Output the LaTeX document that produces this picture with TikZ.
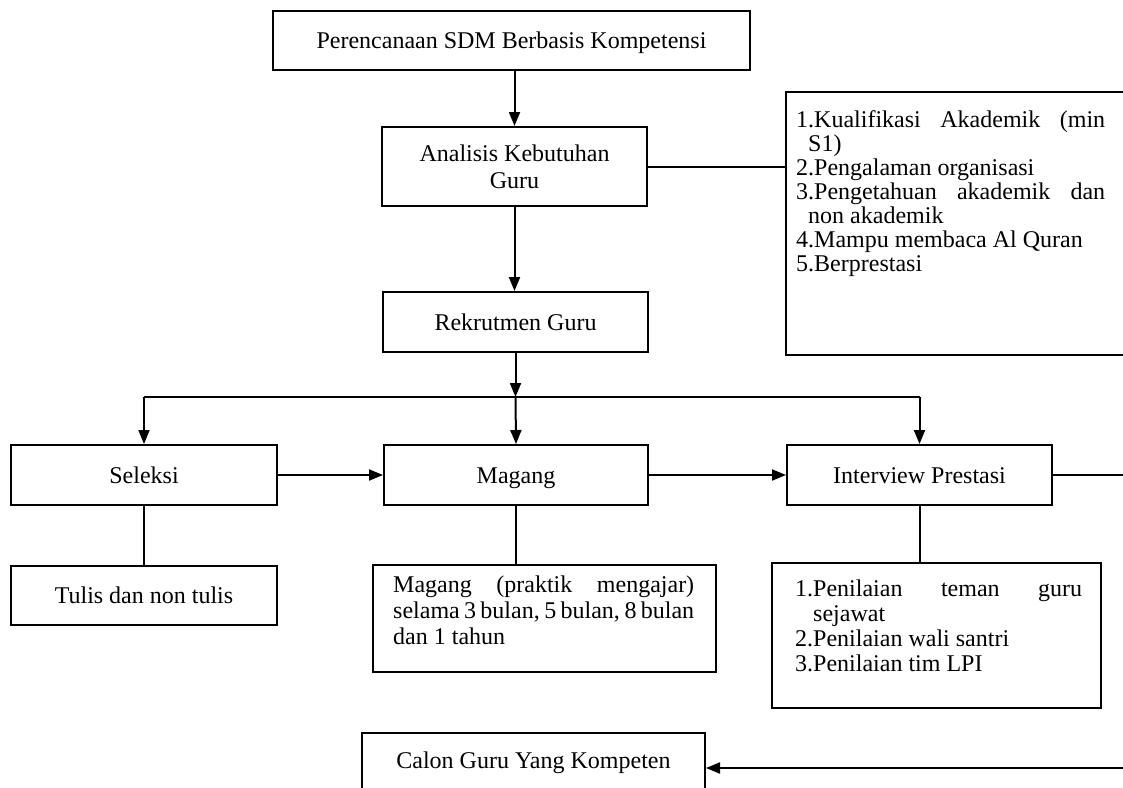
\documentclass[tikz,border=0pt]{standalone}
\usepackage{fontspec}
\setmainfont{Liberation Serif}
\usetikzlibrary{arrows.meta}
\begin{document}
\begin{tikzpicture}[x=1pt,y=-1pt,
  box/.style={draw, line width=2pt, inner sep=0pt, align=center, font=\fontsize{24}{27}\selectfont},
  one/.style={text height=16pt, text depth=0pt},
  txt/.style={inner sep=0pt, anchor=north west, align=left, font=\fontsize{24}{24}\selectfont},
  arr/.style={-{Triangle[length=14pt,width=11pt]}, line width=2pt},
  ln/.style={line width=2pt}]
\useasboundingbox (0,0) rectangle (1123,787);
\clip (0,0) rectangle (1123,787);
% main chain
\node[box, one, minimum width=477, minimum height=59] (p) at (511.5,40.5) {Perencanaan SDM Berbasis Kompetensi};
\node[box, minimum width=265, minimum height=79] (a) at (514.5,166.5) {Analisis Kebutuhan\\Guru};
\node[box, one, minimum width=265, minimum height=60] (r) at (515.5,322) {Rekrutmen Guru};
% criteria box
\node[box, minimum width=354, minimum height=263] (k) at (963,223.5) {};
\node[txt] (kt) at (796,110) {\makebox[309pt][s]{1.Kualifikasi Akademik (min}\\
\hspace*{12pt}S1)\\
2.Pengalaman organisasi\\
\makebox[309pt][s]{3.Pengetahuan akademik dan}\\
\hspace*{12pt}non akademik\\
4.Mampu membaca Al Quran\\
5.Berprestasi};
% second level
\node[box, one, minimum width=266, minimum height=60] (s) at (144,475) {Seleksi};
\node[box, one, minimum width=264, minimum height=60] (m) at (516,475) {Magang};
\node[box, one, minimum width=265, minimum height=60] (i) at (919.5,475) {Interview Prestasi};
% details
\node[box, one, minimum width=266, minimum height=59] (t) at (144,595.5) {Tulis dan non tulis};
\node[box, minimum width=343, minimum height=107] (md) at (544.5,618.5) {};
\node[txt, font=\fontsize{24}{26}\selectfont] (mdt) at (393,576) {\makebox[301pt][s]{Magang (praktik mengajar)}\\
\makebox[301pt][s]{selama 3 bulan, 5 bulan, 8 bulan}\\
dan 1 tahun};
\node[box, minimum width=329, minimum height=145] (id) at (936.5,635.5) {};
\node[txt, font=\fontsize{24}{25}\selectfont] (idt) at (795,580) {\makebox[287pt][s]{1.Penilaian teman guru}\\
\hspace*{18pt}sejawat\\
2.Penilaian wali santri\\
3.Penilaian tim LPI};
\node[box, minimum width=343, minimum height=90] (c) at (533.5,778) {};
\node[box, one, draw=none] (ct) at (533.5,760) {Calon Guru Yang Kompeten};
% connectors
\coordinate (j) at (515.5,397);
\coordinate (jl) at (s.north |- j);
\coordinate (jr) at (i.north |- j);
\coordinate (ie) at (1130,475);
\coordinate (ce) at (1130,768);
\draw[arr] (a.north |- p.south) -- (a.north);
\draw[arr] (a.south) -- (a.south |- r.north);
\draw[ln] (a.east) -- (a.east -| k.west);
\draw[arr] (r.south) -- (j);
\draw[ln] (jl) -- (jr);
\draw[arr] (jl) -- (s.north);
\draw[arr] (j) -- (m.north);
\draw[arr] (jr) -- (i.north);
\draw[arr] (s.east) -- (m.west);
\draw[arr] (m.east) -- (i.west);
\draw[ln] (i.east) -- (ie);
\draw[ln] (s.south) -- (t.north);
\draw[ln] (m.south) -- (md.north -| m.south);
\draw[ln] (i.south) -- (id.north -| i.south);
\draw[arr] (ce) -- (ce -| c.east);
\end{tikzpicture}
\end{document}
